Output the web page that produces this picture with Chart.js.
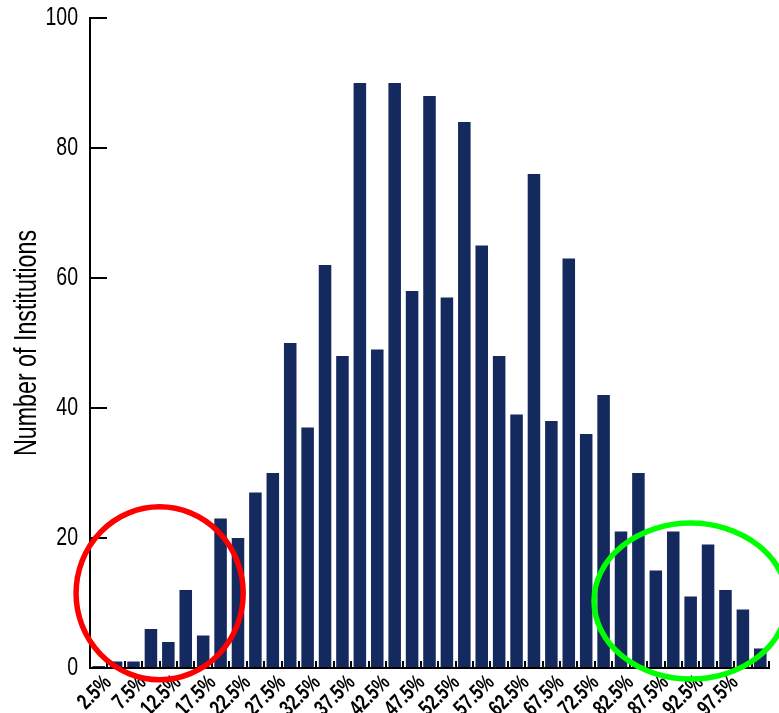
<!DOCTYPE html>
<html>
<head>
<meta charset="utf-8">
<script src="https://cdn.jsdelivr.net/npm/chart.js@4.4.1/dist/chart.umd.min.js"></script>
<style>
  html, body { margin: 0; padding: 0; background: #fff; }
</style>
</head>
<body>
<canvas id="histChart" width="779" height="713"></canvas>
<script>
// Histogram data - one bar per bin
const bins = ['1', '2', '3', '4', '5', '6', '7', '8', '9', '10', '11', '12', '13',
    '14', '15', '16', '17', '18', '19', '20', '21', '22', '23', '24', '25', '26',
    '27', '28', '29', '30', '31', '32', '33', '34', '35', '36', '37', '38', '39'];
const counts = [0.3, 1, 1, 6, 4, 12, 5, 23, 20, 27, 30, 50, 37, 62, 48, 90, 49, 90, 58,
    88, 57, 84, 65, 48, 39, 76, 38, 63, 36, 42, 21, 30, 15, 21, 11, 19, 12, 9, 3];

// Axis labels as printed under the bars
const tickLabels = ['2.5%', '7.5%', '12.5%', '17.5%', '22.5%', '27.5%', '32.5%', '37.5%',
    '42.5%', '47.5%', '52.5%', '57.5%', '62.5%', '67.5%', '72.5%', '82.5%', '87.5%',
    '92.5%', '97.5%'];
const yMin = 0;
const yMax = 100;
const yStep = 20;

// Highlight circles (in bin index / count units)
const highlights = [
    { cx: 3.5, cy: 11.5, rx: 4.8, ry: 13.3, color: '#ff0000' },
    { cx: 34.0, cy: 10.3, rx: 5.55, ry: 12, color: '#00ff00' }
];

const FONT = "'Liberation Sans', Arial, sans-serif";
const NAVY = '#14295d';
const SQUEEZE = 0.75; // no condensed face installed, so squeeze text horizontally

// label i sits on the first..last bin, spread evenly
const labelSpan = (tickLabels.length - 1) * bins.length / (bins.length - 1);
const labelMin = -0.5 * labelSpan / bins.length;

const highlightPlugin = {
    id: 'highlights',
    afterDraw(chart) {
        const { ctx, scales } = chart;
        const x = scales.x, y = scales.y;
        ctx.save();
        ctx.lineWidth = 5.5;
        highlights.forEach(h => {
            const cx = x.getPixelForValue(h.cx);
            const cy = y.getPixelForValue(h.cy);
            const rx = Math.abs(x.getPixelForValue(h.cx + h.rx) - cx);
            const ry = Math.abs(y.getPixelForValue(h.cy + h.ry) - cy);
            ctx.strokeStyle = h.color;
            ctx.beginPath();
            ctx.ellipse(cx, cy, rx, ry, 0, 0, Math.PI * 2);
            ctx.stroke();
        });
        ctx.restore();
    }
};

const ctx = document.getElementById('histChart').getContext('2d');

// condensed text: scale glyphs around their anchor point
const rawFill = ctx.fillText.bind(ctx);
const rawMeasure = ctx.measureText.bind(ctx);
ctx.fillText = function (text, x, y, maxWidth) {
    ctx.save();
    ctx.translate(x, y);
    ctx.scale(SQUEEZE, 1);
    if (maxWidth === undefined) rawFill(text, 0, 0);
    else rawFill(text, 0, 0, maxWidth / SQUEEZE);
    ctx.restore();
};
ctx.measureText = function (text) {
    const m = rawMeasure(text);
    return { width: m.width * SQUEEZE };
};

const chart = new Chart(ctx, {
    type: 'bar',
    data: {
        labels: bins,
        datasets: [{
            data: counts,
            backgroundColor: NAVY,
            borderWidth: 0,
            categoryPercentage: 1,
            barPercentage: 0.72
        }]
    },
    options: {
        responsive: false,
        devicePixelRatio: 1,
        animation: false,
        layout: { padding: { top: 18, right: 10, left: 0, bottom: 0 } },
        plugins: {
            legend: { display: false },
            tooltip: { enabled: false }
        },
        scales: {
            x: {
                position: 'bottom',
                weight: 0,
                ticks: { display: false },
                grid: {
                    offset: true,
                    drawOnChartArea: false,
                    tickLength: -7,
                    color: '#000',
                    lineWidth: 2
                },
                border: { color: '#000', width: 2 },
                afterFit: s => { s.height = 0; }
            },
            x2: {
                type: 'linear',
                position: 'bottom',
                weight: 1,
                min: labelMin,
                max: labelMin + labelSpan,
                grid: { display: false },
                border: { display: false },
                afterBuildTicks: s => { s.ticks = tickLabels.map((t, i) => ({ value: i })); },
                ticks: {
                    autoSkip: false,
                    minRotation: 45,
                    maxRotation: 45,
                    padding: -6,
                    labelOffset: -8,
                    color: '#000',
                    font: { family: FONT, size: 22, weight: 'bold' },
                    callback: v => tickLabels[v]
                },
                afterFit: s => { s.height = 45; s.paddingLeft = 0; s.paddingRight = 0; }
            },
            y: {
                min: yMin,
                max: yMax,
                ticks: {
                    stepSize: yStep,
                    padding: 29,
                    color: '#000',
                    font: { family: FONT, size: 26 }
                },
                grid: {
                    drawOnChartArea: false,
                    tickLength: -17,
                    color: '#000',
                    lineWidth: 2
                },
                border: { color: '#000', width: 2 },
                title: {
                    display: true,
                    text: 'Number of Institutions',
                    color: '#000',
                    font: { family: FONT, size: 31 },
                    padding: { top: 9, bottom: 0 }
                },
                afterFit: s => { s.width = 90; s.paddingTop = 0; s.paddingBottom = 0; }
            }
        }
    },
    plugins: [highlightPlugin]
});
</script>
</body>
</html>
